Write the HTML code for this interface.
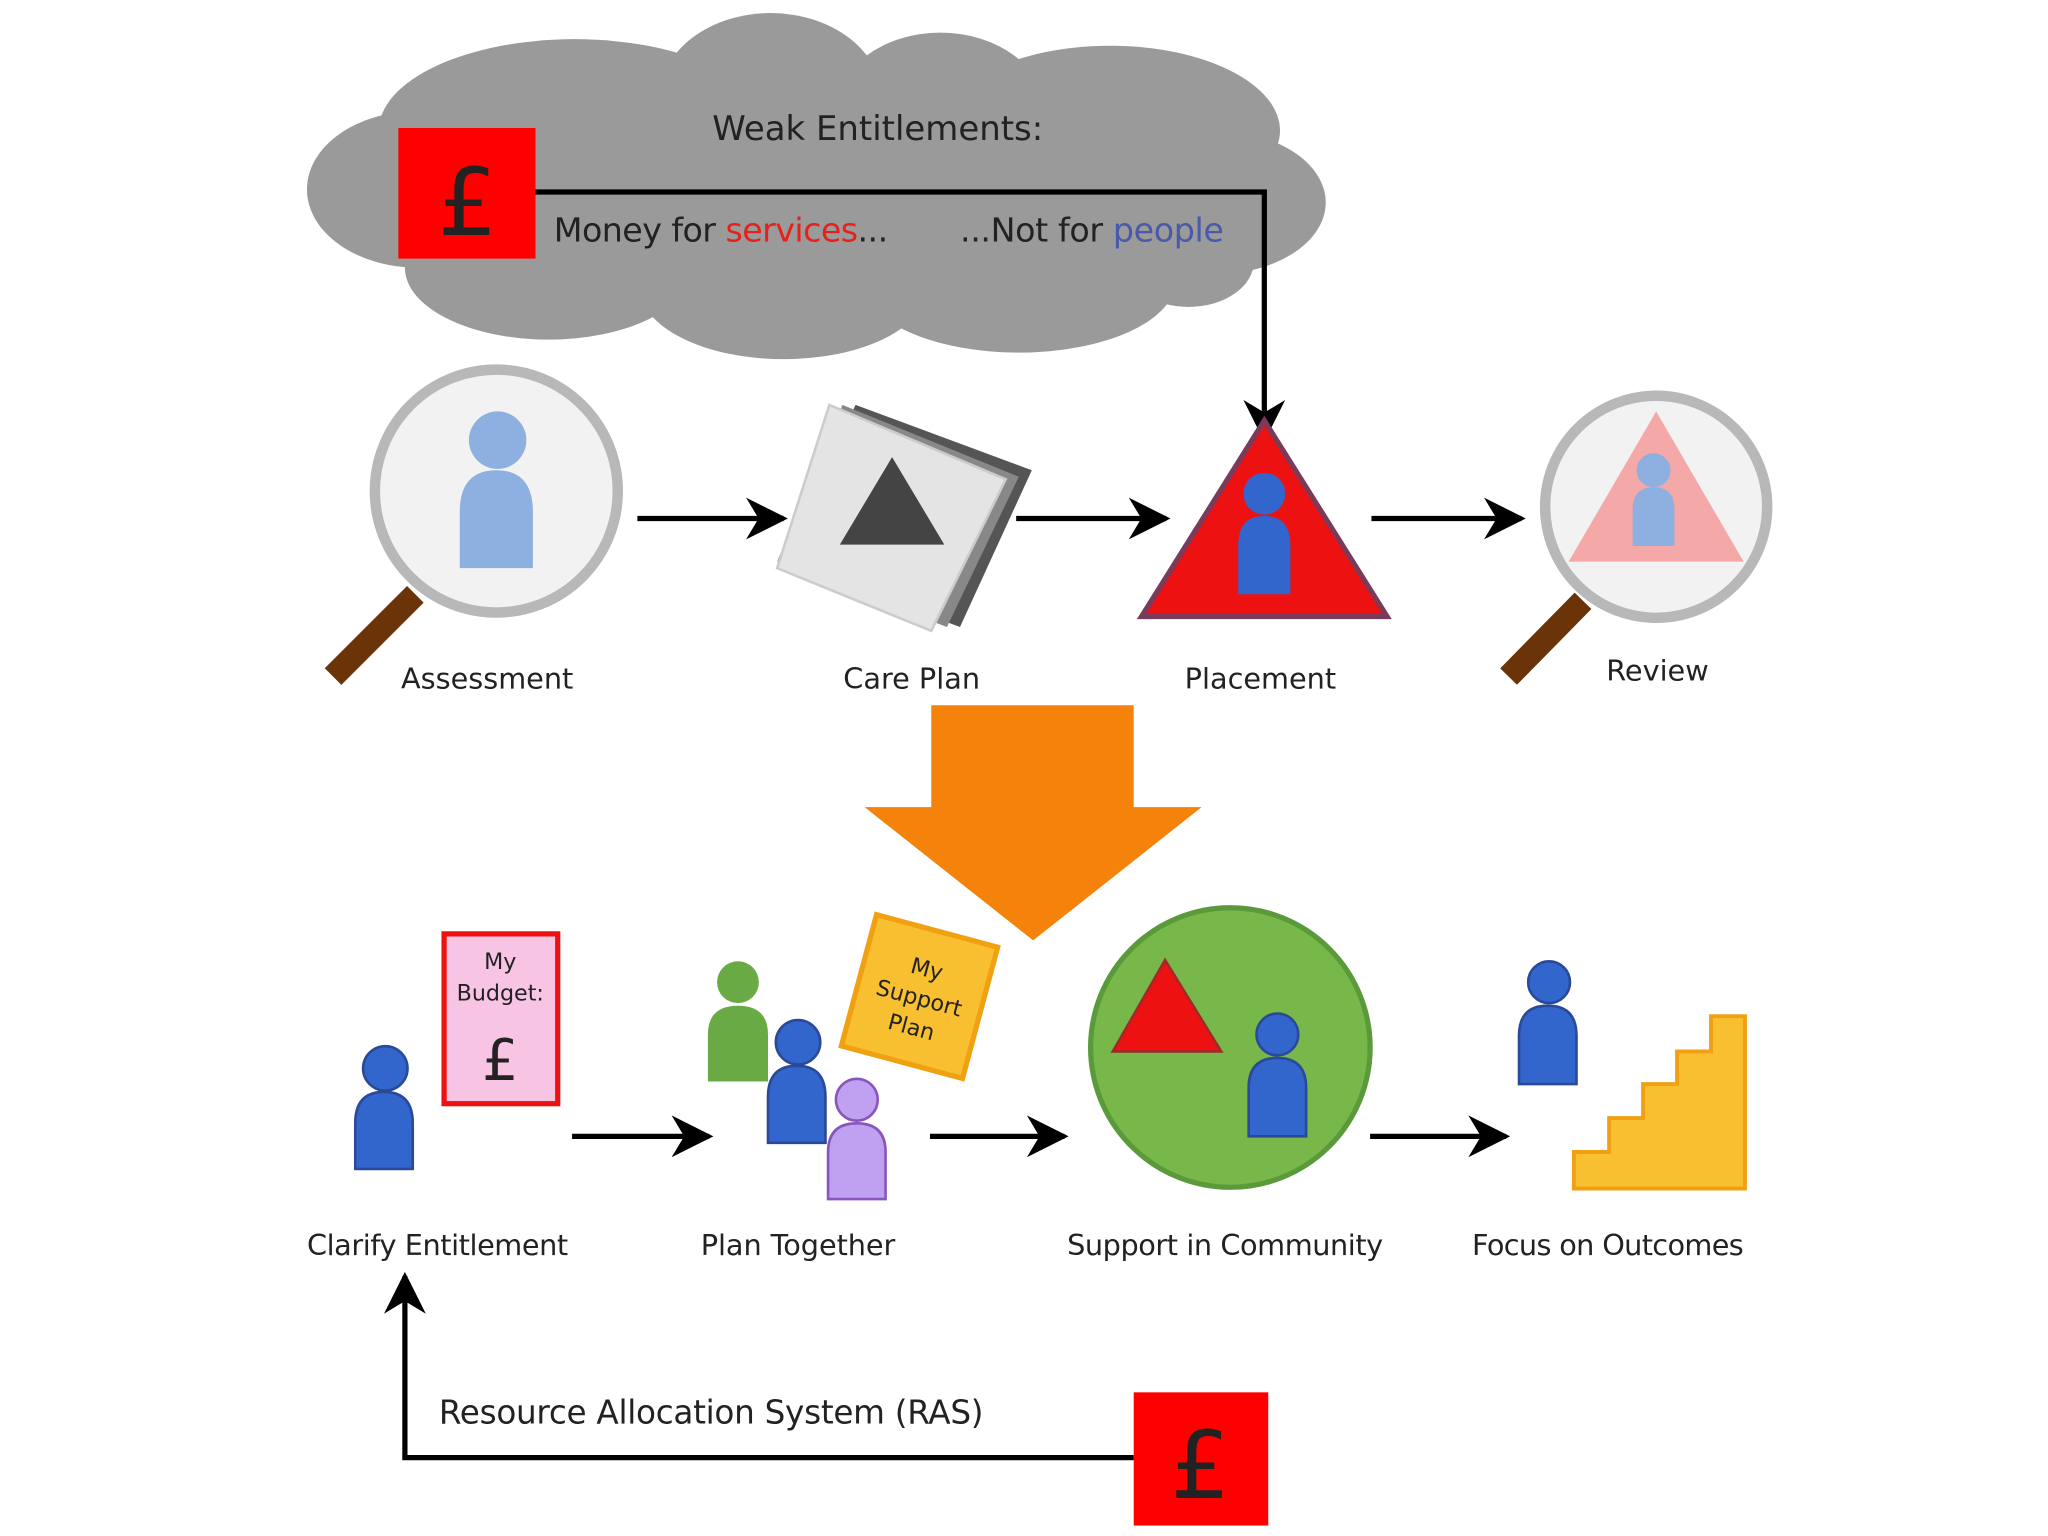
<!DOCTYPE html>
<html><head><meta charset="utf-8"><style>
html,body{margin:0;padding:0;background:#fff;}
svg{display:block;}
text{font-family:"DejaVu Sans","Liberation Sans",sans-serif;fill:#222;}
</style></head><body>
<svg width="2048" height="1536" viewBox="0 0 1568 1176" xmlns="http://www.w3.org/2000/svg">
<defs>
<marker id="ah" viewBox="0 0 10 10" refX="9" refY="5" markerWidth="8" markerHeight="8" orient="auto" markerUnits="strokeWidth">
<path d="M0,0 L10,5 L0,10 L3,5 z" fill="#000"/></marker>
</defs>
<rect width="1568" height="1176" fill="#fff"/>
<!-- cloud -->
<g fill="#9a9a9a">
<ellipse cx="440" cy="100" rx="150" ry="70"/>
<ellipse cx="590" cy="75" rx="85" ry="65"/>
<ellipse cx="720" cy="85" rx="80" ry="60"/>
<ellipse cx="850" cy="100" rx="130" ry="65"/>
<ellipse cx="320" cy="145" rx="85" ry="60"/>
<ellipse cx="930" cy="155" rx="85" ry="55"/>
<ellipse cx="420" cy="205" rx="110" ry="55"/>
<ellipse cx="600" cy="220" rx="110" ry="55"/>
<ellipse cx="780" cy="215" rx="120" ry="55"/>
<ellipse cx="640" cy="150" rx="330" ry="80"/>
<ellipse cx="910" cy="200" rx="50" ry="35"/>
</g>
<rect x="305" y="98" width="105" height="100" fill="#ff0000"/>
<text x="358" y="180" font-size="72" text-anchor="middle" fill="#000">£</text>
<text x="672" y="107" font-size="26" text-anchor="middle">Weak Entitlements:</text>
<text x="424" y="185" font-size="25.5" textLength="256">Money for <tspan fill="#e8201c">services</tspan>...</text>
<text x="735" y="185" font-size="25.5" textLength="202">...Not for <tspan fill="#4a5aa8">people</tspan></text>
<polyline points="410,147 968,147 968,335" fill="none" stroke="#000" stroke-width="4" marker-end="url(#ah)"/>

<!-- assessment -->
<line x1="318" y1="455" x2="255" y2="518" stroke="#6b3308" stroke-width="18"/>
<circle cx="380" cy="376" r="93" fill="#f2f2f2" stroke="#b8b8b8" stroke-width="8"/>
<circle cx="381" cy="337" r="22" fill="#8eb0e0"/>
<path d="M352,435 L352,392 Q352,360 380,360 Q408,360 408,392 L408,435 z" fill="#8eb0e0"/>
<line x1="488" y1="397" x2="600" y2="397" stroke="#000" stroke-width="4" marker-end="url(#ah)"/>

<!-- care plan -->
<g transform="translate(695,395)">
<polygon points="-40,-85 95,-35 40,85 -95,35" fill="#555"/>
<polygon points="-50,-85 85,-30 30,85 -100,35" fill="#888"/>
<polygon points="-60,-85 75,-28 18,88 -100,40" fill="#e4e4e4" stroke="#ccc" stroke-width="2"/>
<polygon points="-12,-45 28,22 -52,22" fill="#444"/>
</g>
<line x1="778" y1="397" x2="893" y2="397" stroke="#000" stroke-width="4" marker-end="url(#ah)"/>

<!-- placement -->
<polygon points="968,322 1062,472 874,472" fill="#ee1111" stroke="#7a3a5a" stroke-width="4"/>
<circle cx="968" cy="378" r="16" fill="#3366cc"/>
<path d="M948,455 L948,418 Q948,395 968,395 Q988,395 988,418 L988,455 z" fill="#3366cc"/>
<line x1="1050" y1="397" x2="1165" y2="397" stroke="#000" stroke-width="4" marker-end="url(#ah)"/>

<!-- review -->
<line x1="1212" y1="460" x2="1155" y2="518" stroke="#6b3308" stroke-width="18"/>
<circle cx="1268" cy="388" r="85" fill="#f2f2f2" stroke="#b8b8b8" stroke-width="8"/>
<polygon points="1268,315 1335,430 1201,430" fill="#f4a8a8"/>
<circle cx="1266" cy="360" r="13" fill="#8eb0e0"/>
<path d="M1250,418 L1250,390 Q1250,373 1266,373 Q1282,373 1282,390 L1282,418 z" fill="#8eb0e0"/>

<text x="373" y="527" font-size="22" text-anchor="middle">Assessment</text>
<text x="698" y="527" font-size="22" text-anchor="middle">Care Plan</text>
<text x="965" y="527" font-size="22" text-anchor="middle">Placement</text>
<text x="1269" y="521" font-size="22" text-anchor="middle">Review</text>

<!-- orange arrow -->
<polygon points="713,540 868,540 868,618 920,618 791,720 662,618 713,618" fill="#f5820a"/>

<!-- clarify -->
<circle cx="295" cy="818" r="17" fill="#3366cc" stroke="#2a4a99" stroke-width="2"/>
<path d="M272,895 L272,860 Q272,836 294,836 Q316,836 316,860 L316,895 z" fill="#3366cc" stroke="#2a4a99" stroke-width="2"/>
<rect x="340" y="715" width="87" height="130" fill="#f8c4e4" stroke="#ee1111" stroke-width="4"/>
<text x="383" y="742" font-size="17" text-anchor="middle">My</text>
<text x="383" y="766" font-size="17" text-anchor="middle">Budget:</text>
<text x="383" y="827" font-size="44" text-anchor="middle" fill="#000">£</text>
<line x1="438" y1="870" x2="543" y2="870" stroke="#000" stroke-width="4" marker-end="url(#ah)"/>

<!-- plan together -->
<circle cx="565" cy="752" r="16" fill="#6aaa44"/>
<path d="M542,828 L542,792 Q542,770 565,770 Q588,770 588,792 L588,828 z" fill="#6aaa44"/>
<circle cx="611" cy="798" r="17" fill="#3366cc" stroke="#2a4a99" stroke-width="2"/>
<path d="M588,875 L588,840 Q588,816 610,816 Q632,816 632,840 L632,875 z" fill="#3366cc" stroke="#2a4a99" stroke-width="2"/>
<circle cx="656" cy="842" r="16" fill="#c0a0f0" stroke="#8855bb" stroke-width="2"/>
<path d="M634,918 L634,882 Q634,860 656,860 Q678,860 678,882 L678,918 z" fill="#c0a0f0" stroke="#8855bb" stroke-width="2"/>
<g transform="translate(704,763) rotate(15)">
<rect x="-48" y="-52" width="96" height="104" fill="#f8c030" stroke="#f0a010" stroke-width="4"/>
<text x="0" y="-16" font-size="17" text-anchor="middle">My</text>
<text x="0" y="7" font-size="17" text-anchor="middle">Support</text>
<text x="0" y="30" font-size="17" text-anchor="middle">Plan</text>
</g>
<line x1="712" y1="870" x2="815" y2="870" stroke="#000" stroke-width="4" marker-end="url(#ah)"/>

<!-- community -->
<circle cx="942" cy="802" r="107" fill="#78b84a" stroke="#5a9a3a" stroke-width="4"/>
<polygon points="892,735 935,805 852,805" fill="#ee1111" stroke="#a02a2a" stroke-width="2"/>
<circle cx="978" cy="792" r="16" fill="#3366cc" stroke="#2a4a99" stroke-width="2"/>
<path d="M956,870 L956,833 Q956,810 978,810 Q1000,810 1000,833 L1000,870 z" fill="#3366cc" stroke="#2a4a99" stroke-width="2"/>
<line x1="1049" y1="870" x2="1153" y2="870" stroke="#000" stroke-width="4" marker-end="url(#ah)"/>

<!-- outcomes -->
<circle cx="1186" cy="752" r="16" fill="#3366cc" stroke="#2a4a99" stroke-width="2"/>
<path d="M1163,830 L1163,793 Q1163,770 1185,770 Q1207,770 1207,793 L1207,830 z" fill="#3366cc" stroke="#2a4a99" stroke-width="2"/>
<polygon points="1205,910 1205,882 1232,882 1232,856 1258,856 1258,830 1284,830 1284,805 1310,805 1310,778 1336,778 1336,910" fill="#f8c030" stroke="#f0a010" stroke-width="3"/>

<text x="335" y="961" font-size="22" text-anchor="middle" textLength="200">Clarify Entitlement</text>
<text x="611" y="961" font-size="22" text-anchor="middle" textLength="149">Plan Together</text>
<text x="938" y="961" font-size="22" text-anchor="middle" textLength="242">Support in Community</text>
<text x="1231" y="961" font-size="22" text-anchor="middle" textLength="208">Focus on Outcomes</text>

<!-- RAS -->
<polyline points="868,1116 310,1116 310,977" fill="none" stroke="#000" stroke-width="4" marker-end="url(#ah)"/>
<text x="336" y="1090" font-size="25" textLength="417">Resource Allocation System (RAS)</text>
<rect x="868" y="1066" width="103" height="102" fill="#ff0000"/>
<text x="919" y="1147" font-size="72" text-anchor="middle" fill="#000">£</text>
</svg>
</body></html>
